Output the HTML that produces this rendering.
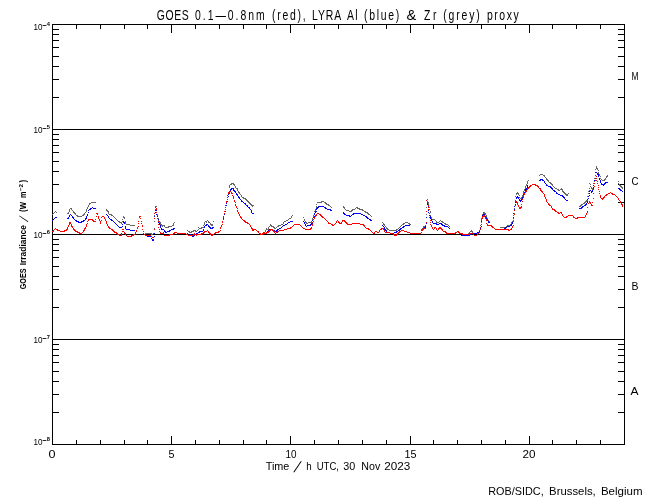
<!DOCTYPE html>
<html><head><meta charset="utf-8"><title>GOES LYRA proxy</title>
<style>
html,body{margin:0;padding:0;background:#fff;width:650px;height:500px;overflow:hidden}
svg{display:block;will-change:transform}
text{font-family:"Liberation Sans",Arial,sans-serif;fill:#000}
</style></head><body>
<svg width="650" height="500" viewBox="0 0 650 500">
<rect width="650" height="500" fill="#fff"/>
<g id="plot">
<g shape-rendering="crispEdges">
<rect x="52.5" y="24.5" width="572" height="420" fill="none" stroke="#000"/>
<line x1="52" y1="129.5" x2="625" y2="129.5" stroke="#000"/>
<line x1="52" y1="234.5" x2="625" y2="234.5" stroke="#000"/>
<line x1="52" y1="339.5" x2="625" y2="339.5" stroke="#000"/>
<path d="M53 97.5H59M618 97.5H624M53 79.5H59M618 79.5H624M53 66.5H59M618 66.5H624M53 56.5H59M618 56.5H624M53 47.5H59M618 47.5H624M53 40.5H59M618 40.5H624M53 34.5H59M618 34.5H624M53 29.5H59M618 29.5H624M53 202.5H59M618 202.5H624M53 184.5H59M618 184.5H624M53 171.5H59M618 171.5H624M53 161.5H59M618 161.5H624M53 152.5H59M618 152.5H624M53 145.5H59M618 145.5H624M53 139.5H59M618 139.5H624M53 134.5H59M618 134.5H624M53 307.5H59M618 307.5H624M53 289.5H59M618 289.5H624M53 276.5H59M618 276.5H624M53 266.5H59M618 266.5H624M53 257.5H59M618 257.5H624M53 250.5H59M618 250.5H624M53 244.5H59M618 244.5H624M53 239.5H59M618 239.5H624M53 412.5H59M618 412.5H624M53 394.5H59M618 394.5H624M53 381.5H59M618 381.5H624M53 371.5H59M618 371.5H624M53 362.5H59M618 362.5H624M53 355.5H59M618 355.5H624M53 349.5H59M618 349.5H624M53 344.5H59M618 344.5H624" stroke="#000" fill="none"/>
<path d="M76.5 444V440M76.5 25V29M100.5 444V440M100.5 25V29M124.5 444V440M124.5 25V29M147.5 444V440M147.5 25V29M171.5 444V436M171.5 25V33M195.5 444V440M195.5 25V29M219.5 444V440M219.5 25V29M243.5 444V440M243.5 25V29M266.5 444V440M266.5 25V29M290.5 444V436M290.5 25V33M314.5 444V440M314.5 25V29M338.5 444V440M338.5 25V29M362.5 444V440M362.5 25V29M386.5 444V440M386.5 25V29M410.5 444V436M410.5 25V33M433.5 444V440M433.5 25V29M457.5 444V440M457.5 25V29M481.5 444V440M481.5 25V29M505.5 444V440M505.5 25V29M529.5 444V436M529.5 25V33M552.5 444V440M552.5 25V29M576.5 444V440M576.5 25V29M600.5 444V440M600.5 25V29" stroke="#000" fill="none"/>
</g>
<g id="data" shape-rendering="crispEdges">
<path d="M52 214.5h1M53 213.5h1M54 212.5h1M55 211.5h1M56 212.5h1M67 213.5h1M68 213.5h1M68 212.5h1M69 211.5h1M69 210.5h1M69 209.5h1M70 208.5h1M71 208.5h1M71 209.5h1M72 210.5h1M73 211.5h1M73 212.5h1M74 212.5h1M74 213.5h1M75 213.5h1M75 214.5h1M76 215.5h1M77 215.5h1M77 216.5h1M78 216.5h1M79 216.5h1M80 216.5h1M81 216.5h1M82 215.5h1M83 215.5h1M83 214.5h1M84 214.5h1M84 213.5h1M85 212.5h1M86 211.5h1M86 210.5h1M86 209.5h1M87 208.5h1M87 207.5h1M88 206.5h1M88 205.5h1M89 204.5h1M89 203.5h1M90 203.5h1M91 202.5h1M92 202.5h1M93 202.5h1M94 202.5h1M95 202.5h1M106 209.5h1M106 210.5h1M107 210.5h1M107 211.5h1M108 211.5h1M108 212.5h1M108 213.5h1M109 214.5h1M110 214.5h1M111 214.5h1M111 215.5h1M112 215.5h1M113 216.5h1M114 217.5h1M115 218.5h1M116 219.5h1M117 220.5h1M118 221.5h1M119 221.5h1M119 222.5h1M120 222.5h1M121 223.5h1M121 222.5h1M122 221.5h1M122 219.5h1M123 217.5h1M123 216.5h1M124 217.5h1M124 218.5h1M125 221.5h1M125 222.5h1M125 223.5h1M126 224.5h1M127 224.5h1M128 224.5h1M129 224.5h1M130 225.5h1M131 225.5h1M132 225.5h1M133 225.5h1M134 225.5h1M145 233.5h1M146 233.5h1M147 233.5h1M148 233.5h1M149 233.5h1M150 233.5h1M151 233.5h1M151 234.5h1M152 234.5h1M153 233.5h1M154 228.5h1M154 221.5h1M154 215.5h1M155 209.5h1M155 206.5h1M156 206.5h1M156 209.5h1M156 212.5h1M157 214.5h1M157 216.5h1M158 218.5h1M158 219.5h1M158 220.5h1M159 221.5h1M159 222.5h1M160 222.5h1M160 223.5h1M160 224.5h1M161 224.5h1M161 225.5h1M162 225.5h1M162 226.5h1M163 225.5h1M164 225.5h1M164 226.5h1M165 227.5h1M166 227.5h1M167 227.5h1M168 227.5h1M168 226.5h1M169 226.5h1M170 226.5h1M171 226.5h1M172 225.5h1M173 225.5h1M173 224.5h1M173 223.5h1M174 222.5h1M187 230.5h1M188 231.5h1M189 231.5h1M189 232.5h1M190 232.5h1M191 232.5h1M191 231.5h1M192 231.5h1M193 231.5h1M193 230.5h1M194 230.5h1M195 230.5h1M195 231.5h1M196 231.5h1M197 230.5h1M198 229.5h1M198 227.5h1M199 228.5h1M200 228.5h1M201 228.5h1M201 227.5h1M202 227.5h1M203 227.5h1M203 225.5h1M204 224.5h1M204 223.5h1M204 222.5h1M205 221.5h1M206 222.5h1M206 221.5h1M207 220.5h1M208 221.5h1M208 222.5h1M209 222.5h1M210 223.5h1M210 224.5h1M211 224.5h1M211 225.5h1M212 225.5h1M212 224.5h1M213 221.5h1M229 187.5h1M229 186.5h1M229 185.5h1M230 184.5h1M231 184.5h1M231 183.5h1M232 183.5h1M233 183.5h1M233 184.5h1M234 184.5h1M234 185.5h1M235 186.5h1M235 187.5h1M236 188.5h1M237 188.5h1M237 189.5h1M237 190.5h1M238 191.5h1M238 192.5h1M239 192.5h1M239 193.5h1M240 194.5h1M241 195.5h1M241 196.5h1M242 197.5h1M243 197.5h1M243 198.5h1M244 198.5h1M245 198.5h1M245 199.5h1M246 199.5h1M246 200.5h1M247 200.5h1M247 201.5h1M248 201.5h1M248 202.5h1M249 202.5h1M249 203.5h1M250 203.5h1M250 204.5h1M251 204.5h1M251 205.5h1M252 205.5h1M252 206.5h1M253 205.5h1M265 231.5h1M265 230.5h1M266 229.5h1M266 228.5h1M267 229.5h1M268 229.5h1M268 228.5h1M268 227.5h1M269 226.5h1M270 225.5h1M270 224.5h1M271 225.5h1M271 226.5h1M272 226.5h1M273 226.5h1M273 227.5h1M274 227.5h1M274 228.5h1M275 228.5h1M276 227.5h1M277 226.5h1M278 226.5h1M278 225.5h1M279 225.5h1M280 225.5h1M281 224.5h1M282 224.5h1M283 223.5h1M283 222.5h1M284 221.5h1M285 221.5h1M286 220.5h1M287 220.5h1M288 219.5h1M289 218.5h1M290 218.5h1M291 217.5h1M291 216.5h1M292 215.5h1M303 217.5h1M304 219.5h1M304 220.5h1M305 221.5h1M305 222.5h1M306 222.5h1M306 223.5h1M307 223.5h1M308 222.5h1M309 222.5h1M310 222.5h1M311 222.5h1M311 221.5h1M312 220.5h1M312 219.5h1M312 218.5h1M313 216.5h1M313 215.5h1M314 214.5h1M314 213.5h1M314 211.5h1M315 210.5h1M315 209.5h1M316 207.5h1M316 206.5h1M316 204.5h1M317 202.5h1M318 202.5h1M319 202.5h1M320 202.5h1M321 202.5h1M321 201.5h1M322 201.5h1M323 201.5h1M324 202.5h1M325 202.5h1M325 203.5h1M326 203.5h1M326 204.5h1M327 204.5h1M328 204.5h1M328 205.5h1M329 205.5h1M330 206.5h1M331 207.5h1M343 206.5h1M343 207.5h1M344 207.5h1M344 208.5h1M345 209.5h1M346 210.5h1M347 210.5h1M348 210.5h1M349 211.5h1M350 211.5h1M351 211.5h1M351 210.5h1M352 210.5h1M352 209.5h1M353 209.5h1M354 209.5h1M355 208.5h1M356 207.5h1M357 207.5h1M357 208.5h1M358 208.5h1M359 208.5h1M359 209.5h1M360 209.5h1M361 209.5h1M362 209.5h1M362 210.5h1M363 210.5h1M364 211.5h1M365 211.5h1M365 212.5h1M366 212.5h1M367 212.5h1M367 213.5h1M368 213.5h1M368 214.5h1M369 214.5h1M370 215.5h1M371 216.5h1M382 222.5h1M383 223.5h1M383 224.5h1M384 224.5h1M384 225.5h1M385 226.5h1M386 227.5h1M386 228.5h1M387 228.5h1M387 229.5h1M388 229.5h1M389 230.5h1M390 230.5h1M391 230.5h1M392 230.5h1M393 230.5h1M394 230.5h1M395 230.5h1M396 230.5h1M396 229.5h1M397 229.5h1M398 228.5h1M399 227.5h1M400 226.5h1M401 225.5h1M402 224.5h1M403 224.5h1M403 223.5h1M404 223.5h1M405 222.5h1M406 222.5h1M407 222.5h1M408 223.5h1M409 223.5h1M409 224.5h1M410 224.5h1M421 229.5h1M422 228.5h1M423 227.5h1M423 226.5h1M424 226.5h1M425 225.5h1M426 222.5h1M426 214.5h1M426 207.5h1M427 199.5h1M428 202.5h1M428 203.5h1M428 204.5h1M429 207.5h1M429 209.5h1M430 211.5h1M430 212.5h1M430 215.5h1M431 217.5h1M431 218.5h1M432 219.5h1M433 219.5h1M434 219.5h1M435 220.5h1M436 221.5h1M436 222.5h1M437 222.5h1M438 222.5h1M439 221.5h1M440 220.5h1M441 221.5h1M442 221.5h1M442 222.5h1M443 222.5h1M444 223.5h1M445 223.5h1M445 224.5h1M446 224.5h1M447 224.5h1M448 225.5h1M449 226.5h1M461 235.5h1M462 235.5h1M463 235.5h1M464 235.5h1M465 235.5h1M466 235.5h1M466 234.5h1M467 234.5h1M468 234.5h1M468 233.5h1M469 233.5h1M469 232.5h1M470 231.5h1M471 230.5h1M471 231.5h1M472 231.5h1M472 232.5h1M473 233.5h1M474 233.5h1M475 233.5h1M476 233.5h1M477 233.5h1M478 232.5h1M479 232.5h1M479 231.5h1M479 230.5h1M480 228.5h1M480 225.5h1M481 222.5h1M481 220.5h1M481 218.5h1M482 216.5h1M482 215.5h1M482 214.5h1M483 213.5h1M483 212.5h1M484 212.5h1M484 213.5h1M485 213.5h1M485 214.5h1M486 215.5h1M486 216.5h1M486 217.5h1M487 218.5h1M487 219.5h1M488 220.5h1M488 221.5h1M489 221.5h1M500 227.5h1M501 227.5h1M502 227.5h1M503 227.5h1M504 227.5h1M505 227.5h1M506 227.5h1M506 226.5h1M507 226.5h1M507 225.5h1M508 225.5h1M509 225.5h1M510 224.5h1M511 223.5h1M511 222.5h1M512 222.5h1M512 221.5h1M513 220.5h1M513 217.5h1M513 215.5h1M514 213.5h1M514 208.5h1M515 204.5h1M515 200.5h1M515 196.5h1M516 194.5h1M516 193.5h1M517 193.5h1M517 192.5h1M518 193.5h1M518 194.5h1M519 195.5h1M519 197.5h1M520 198.5h1M521 198.5h1M521 197.5h1M522 196.5h1M522 195.5h1M523 193.5h1M523 192.5h1M523 191.5h1M524 190.5h1M524 189.5h1M525 188.5h1M525 187.5h1M525 186.5h1M526 185.5h1M526 184.5h1M527 183.5h1M527 182.5h1M527 181.5h1M528 180.5h1M539 175.5h1M540 174.5h1M541 174.5h1M542 174.5h1M543 175.5h1M544 175.5h1M544 176.5h1M545 177.5h1M546 178.5h1M546 179.5h1M547 179.5h1M547 180.5h1M548 180.5h1M548 181.5h1M549 182.5h1M550 182.5h1M550 183.5h1M551 183.5h1M551 184.5h1M552 184.5h1M552 185.5h1M553 186.5h1M554 187.5h1M555 188.5h1M556 188.5h1M557 189.5h1M558 189.5h1M558 190.5h1M559 190.5h1M560 189.5h1M561 188.5h1M561 189.5h1M562 189.5h1M562 190.5h1M562 191.5h1M563 191.5h1M563 192.5h1M564 192.5h1M564 193.5h1M565 193.5h1M565 194.5h1M566 194.5h1M566 195.5h1M567 195.5h1M567 194.5h1M568 193.5h1M579 206.5h1M580 206.5h1M580 205.5h1M581 205.5h1M581 204.5h1M582 204.5h1M583 203.5h1M584 203.5h1M584 202.5h1M585 202.5h1M585 201.5h1M586 201.5h1M586 200.5h1M587 200.5h1M587 199.5h1M587 196.5h1M588 193.5h1M588 191.5h1M589 190.5h1M589 188.5h1M589 183.5h1M590 184.5h1M590 186.5h1M591 187.5h1M591 188.5h1M592 189.5h1M592 188.5h1M593 187.5h1M593 185.5h1M593 183.5h1M594 181.5h1M594 178.5h1M595 175.5h1M595 172.5h1M595 169.5h1M596 168.5h1M596 166.5h1M596 167.5h1M597 168.5h1M597 169.5h1M598 170.5h1M598 172.5h1M598 173.5h1M599 174.5h1M599 175.5h1M600 176.5h1M600 178.5h1M601 179.5h1M602 180.5h1M603 180.5h1M604 180.5h1M604 179.5h1M605 179.5h1M605 178.5h1M606 177.5h1M606 176.5h1M607 176.5h1M607 175.5h1M618 181.5h1M618 183.5h1M619 184.5h1M619 185.5h1M620 185.5h1M620 186.5h1M621 186.5h1M621 187.5h1M622 187.5h1M622 188.5h1" fill="none" stroke="#666666" stroke-width="1"/>
<path d="M52 220.5h1M53 219.5h1M54 218.5h1M55 217.5h1M56 217.5h1M67 218.5h1M68 218.5h1M68 217.5h1M69 216.5h1M69 215.5h1M70 214.5h1M71 215.5h1M72 216.5h1M72 217.5h1M73 217.5h1M73 218.5h1M74 219.5h1M75 220.5h1M76 220.5h1M76 221.5h1M77 221.5h1M78 221.5h1M78 222.5h1M79 222.5h1M80 222.5h1M81 222.5h1M81 221.5h1M82 221.5h1M83 221.5h1M83 220.5h1M84 220.5h1M85 219.5h1M85 218.5h1M86 218.5h1M86 217.5h1M86 216.5h1M87 215.5h1M87 214.5h1M88 212.5h1M88 210.5h1M89 209.5h1M90 209.5h1M90 208.5h1M91 208.5h1M92 207.5h1M93 208.5h1M94 208.5h1M95 208.5h1M106 214.5h1M107 215.5h1M108 216.5h1M108 217.5h1M109 218.5h1M110 219.5h1M111 219.5h1M111 220.5h1M112 220.5h1M113 221.5h1M114 222.5h1M115 223.5h1M116 224.5h1M117 225.5h1M118 226.5h1M119 227.5h1M120 227.5h1M121 227.5h1M122 226.5h1M122 224.5h1M123 222.5h1M123 221.5h1M124 222.5h1M124 223.5h1M125 226.5h1M125 227.5h1M125 228.5h1M126 229.5h1M127 229.5h1M128 229.5h1M129 229.5h1M130 230.5h1M131 230.5h1M132 230.5h1M133 230.5h1M134 230.5h1M145 235.5h1M146 235.5h1M147 236.5h1M148 236.5h1M149 236.5h1M150 236.5h1M151 236.5h1M151 238.5h1M152 239.5h1M152 240.5h1M153 240.5h1M153 239.5h1M154 236.5h1M154 233.5h1M154 216.5h1M155 212.5h1M155 210.5h1M156 210.5h1M156 212.5h1M156 214.5h1M157 216.5h1M157 218.5h1M158 219.5h1M158 221.5h1M158 222.5h1M159 223.5h1M159 224.5h1M160 225.5h1M160 226.5h1M160 227.5h1M161 228.5h1M161 229.5h1M162 229.5h1M163 229.5h1M164 230.5h1M164 231.5h1M165 231.5h1M165 232.5h1M166 232.5h1M167 231.5h1M168 231.5h1M169 231.5h1M169 230.5h1M170 230.5h1M171 229.5h1M172 229.5h1M173 229.5h1M173 228.5h1M174 228.5h1M187 233.5h1M187 234.5h1M188 235.5h1M189 234.5h1M190 234.5h1M191 235.5h1M192 235.5h1M192 236.5h1M193 236.5h1M193 235.5h1M194 235.5h1M195 234.5h1M196 234.5h1M196 233.5h1M197 233.5h1M198 232.5h1M199 232.5h1M199 231.5h1M200 231.5h1M201 231.5h1M202 231.5h1M203 230.5h1M203 229.5h1M204 227.5h1M204 226.5h1M205 225.5h1M206 225.5h1M206 224.5h1M207 224.5h1M208 225.5h1M208 226.5h1M209 226.5h1M209 227.5h1M210 227.5h1M210 228.5h1M211 228.5h1M212 228.5h1M212 227.5h1M213 227.5h1M223 218.5h1M223 217.5h1M223 216.5h1M224 214.5h1M224 213.5h1M225 211.5h1M225 209.5h1M225 207.5h1M226 205.5h1M226 203.5h1M227 201.5h1M227 199.5h1M227 197.5h1M228 196.5h1M228 194.5h1M229 193.5h1M229 192.5h1M229 191.5h1M230 190.5h1M230 189.5h1M231 189.5h1M231 188.5h1M232 188.5h1M233 188.5h1M233 189.5h1M233 190.5h1M234 190.5h1M234 191.5h1M235 191.5h1M235 192.5h1M236 193.5h1M236 194.5h1M237 194.5h1M237 195.5h1M238 196.5h1M238 197.5h1M239 197.5h1M239 198.5h1M240 199.5h1M241 200.5h1M241 201.5h1M242 201.5h1M243 202.5h1M244 203.5h1M245 203.5h1M245 204.5h1M246 205.5h1M247 205.5h1M247 206.5h1M248 207.5h1M249 207.5h1M249 208.5h1M250 209.5h1M251 210.5h1M251 211.5h1M251 212.5h1M252 213.5h1M253 213.5h1M265 233.5h1M266 233.5h1M266 232.5h1M267 232.5h1M267 231.5h1M268 231.5h1M268 230.5h1M269 230.5h1M269 229.5h1M270 229.5h1M271 229.5h1M272 229.5h1M272 230.5h1M273 230.5h1M274 230.5h1M274 231.5h1M275 231.5h1M276 231.5h1M276 230.5h1M277 230.5h1M277 229.5h1M278 229.5h1M279 228.5h1M280 228.5h1M281 227.5h1M282 226.5h1M283 225.5h1M284 225.5h1M285 224.5h1M286 224.5h1M287 223.5h1M288 222.5h1M289 222.5h1M290 221.5h1M291 221.5h1M292 221.5h1M303 221.5h1M304 222.5h1M304 223.5h1M305 224.5h1M305 225.5h1M306 226.5h1M307 225.5h1M308 225.5h1M309 225.5h1M310 225.5h1M310 224.5h1M311 224.5h1M311 223.5h1M312 223.5h1M312 222.5h1M312 220.5h1M313 219.5h1M313 217.5h1M314 216.5h1M314 214.5h1M314 213.5h1M315 212.5h1M315 211.5h1M316 211.5h1M316 209.5h1M316 208.5h1M317 208.5h1M317 207.5h1M318 207.5h1M318 206.5h1M319 206.5h1M320 206.5h1M321 206.5h1M322 206.5h1M323 206.5h1M324 207.5h1M325 207.5h1M325 208.5h1M326 208.5h1M327 209.5h1M328 209.5h1M329 209.5h1M330 209.5h1M330 210.5h1M331 210.5h1M343 212.5h1M343 213.5h1M344 213.5h1M344 214.5h1M345 214.5h1M346 215.5h1M347 215.5h1M348 215.5h1M349 215.5h1M349 216.5h1M350 216.5h1M351 215.5h1M352 214.5h1M353 214.5h1M353 213.5h1M354 213.5h1M355 213.5h1M356 213.5h1M357 213.5h1M358 213.5h1M359 213.5h1M360 213.5h1M361 214.5h1M362 214.5h1M363 215.5h1M364 215.5h1M365 216.5h1M366 216.5h1M366 217.5h1M367 217.5h1M367 218.5h1M368 218.5h1M369 219.5h1M370 219.5h1M370 220.5h1M371 220.5h1M382 225.5h1M383 226.5h1M384 227.5h1M384 228.5h1M384 229.5h1M385 229.5h1M385 230.5h1M386 230.5h1M386 231.5h1M387 232.5h1M388 232.5h1M389 232.5h1M390 233.5h1M391 233.5h1M392 233.5h1M393 233.5h1M394 232.5h1M395 232.5h1M396 232.5h1M396 231.5h1M397 231.5h1M398 230.5h1M399 230.5h1M399 229.5h1M400 229.5h1M400 228.5h1M401 228.5h1M402 227.5h1M403 227.5h1M403 226.5h1M404 226.5h1M405 225.5h1M406 225.5h1M407 225.5h1M408 225.5h1M409 225.5h1M421 230.5h1M422 229.5h1M423 228.5h1M424 228.5h1M424 227.5h1M425 227.5h1M425 226.5h1M426 223.5h1M426 217.5h1M426 211.5h1M427 204.5h1M427 203.5h1M428 206.5h1M428 210.5h1M428 212.5h1M429 213.5h1M429 215.5h1M430 216.5h1M430 217.5h1M430 218.5h1M431 219.5h1M431 220.5h1M432 221.5h1M432 222.5h1M433 223.5h1M434 223.5h1M435 223.5h1M436 223.5h1M436 224.5h1M437 224.5h1M438 224.5h1M439 223.5h1M440 223.5h1M441 223.5h1M441 224.5h1M442 224.5h1M442 225.5h1M443 225.5h1M444 225.5h1M444 226.5h1M445 226.5h1M446 226.5h1M447 226.5h1M448 227.5h1M449 228.5h1M461 235.5h1M462 235.5h1M463 235.5h1M464 235.5h1M465 235.5h1M466 235.5h1M467 235.5h1M468 235.5h1M469 235.5h1M469 234.5h1M470 234.5h1M470 233.5h1M471 233.5h1M472 233.5h1M473 233.5h1M474 233.5h1M475 233.5h1M476 233.5h1M477 232.5h1M478 232.5h1M479 232.5h1M479 231.5h1M479 230.5h1M480 229.5h1M480 228.5h1M481 226.5h1M481 224.5h1M481 221.5h1M482 217.5h1M482 215.5h1M483 214.5h1M484 214.5h1M484 215.5h1M484 216.5h1M485 216.5h1M485 217.5h1M486 217.5h1M486 218.5h1M486 219.5h1M487 219.5h1M487 220.5h1M488 221.5h1M488 222.5h1M489 222.5h1M501 229.5h1M502 229.5h1M503 229.5h1M504 229.5h1M504 228.5h1M505 228.5h1M505 227.5h1M506 227.5h1M507 226.5h1M508 226.5h1M509 226.5h1M510 225.5h1M511 225.5h1M511 224.5h1M512 223.5h1M512 222.5h1M513 221.5h1M513 217.5h1M513 213.5h1M514 209.5h1M514 206.5h1M515 204.5h1M515 202.5h1M515 200.5h1M516 198.5h1M516 197.5h1M517 196.5h1M517 197.5h1M518 197.5h1M518 198.5h1M519 199.5h1M519 200.5h1M520 200.5h1M520 201.5h1M521 200.5h1M521 199.5h1M522 198.5h1M522 197.5h1M523 196.5h1M523 195.5h1M523 194.5h1M524 193.5h1M524 192.5h1M525 191.5h1M525 190.5h1M525 189.5h1M526 189.5h1M526 188.5h1M527 187.5h1M527 186.5h1M527 185.5h1M539 180.5h1M540 180.5h1M540 179.5h1M541 179.5h1M542 179.5h1M542 180.5h1M543 180.5h1M544 181.5h1M544 182.5h1M545 183.5h1M546 184.5h1M546 185.5h1M547 185.5h1M548 186.5h1M549 186.5h1M550 186.5h1M550 187.5h1M551 187.5h1M551 188.5h1M552 188.5h1M552 189.5h1M553 190.5h1M554 190.5h1M554 191.5h1M555 191.5h1M556 192.5h1M556 193.5h1M557 193.5h1M558 194.5h1M559 194.5h1M560 195.5h1M561 195.5h1M562 195.5h1M562 196.5h1M563 196.5h1M563 197.5h1M564 197.5h1M564 198.5h1M565 199.5h1M566 200.5h1M567 200.5h1M579 208.5h1M580 208.5h1M581 208.5h1M581 207.5h1M582 207.5h1M582 206.5h1M583 206.5h1M584 205.5h1M585 205.5h1M585 204.5h1M586 204.5h1M586 203.5h1M587 202.5h1M587 201.5h1M587 199.5h1M588 198.5h1M588 196.5h1M589 195.5h1M589 193.5h1M589 191.5h1M590 190.5h1M591 191.5h1M591 192.5h1M592 191.5h1M592 190.5h1M593 188.5h1M593 187.5h1M593 185.5h1M594 183.5h1M594 180.5h1M595 178.5h1M595 175.5h1M595 172.5h1M596 172.5h1M597 173.5h1M597 174.5h1M598 174.5h1M598 175.5h1M598 176.5h1M599 178.5h1M599 179.5h1M600 180.5h1M600 181.5h1M600 182.5h1M601 183.5h1M601 184.5h1M602 184.5h1M603 185.5h1M603 184.5h1M604 184.5h1M604 183.5h1M605 183.5h1M605 182.5h1M606 182.5h1M607 182.5h1M618 188.5h1M619 188.5h1M619 189.5h1M620 189.5h1M620 190.5h1M621 190.5h1M622 191.5h1" fill="none" stroke="#0000ff" stroke-width="1"/>
<path d="M52 231.5h1M53 231.5h1M53 230.5h1M54 229.5h1M55 228.5h1M56 229.5h1M57 229.5h1M57 230.5h1M58 230.5h1M59 230.5h1M60 231.5h1M61 231.5h1M62 231.5h1M63 231.5h1M64 231.5h1M64 230.5h1M65 230.5h1M66 230.5h1M66 229.5h1M67 229.5h1M67 228.5h1M67 227.5h1M68 226.5h1M68 225.5h1M69 224.5h1M69 223.5h1M69 222.5h1M70 222.5h1M70 223.5h1M71 224.5h1M71 225.5h1M71 226.5h1M72 226.5h1M72 227.5h1M73 228.5h1M73 229.5h1M74 229.5h1M74 230.5h1M75 230.5h1M75 231.5h1M76 231.5h1M77 231.5h1M77 232.5h1M78 232.5h1M79 232.5h1M79 233.5h1M80 233.5h1M81 233.5h1M82 232.5h1M83 231.5h1M83 230.5h1M84 230.5h1M84 229.5h1M84 228.5h1M85 228.5h1M85 227.5h1M86 226.5h1M86 225.5h1M86 224.5h1M87 223.5h1M87 221.5h1M88 220.5h1M88 219.5h1M89 219.5h1M90 219.5h1M91 219.5h1M92 219.5h1M92 220.5h1M93 220.5h1M93 221.5h1M94 221.5h1M95 221.5h1M95 219.5h1M96 216.5h1M96 213.5h1M97 213.5h1M97 214.5h1M98 216.5h1M98 217.5h1M98 218.5h1M99 219.5h1M99 220.5h1M100 221.5h1M100 222.5h1M100 223.5h1M101 220.5h1M101 217.5h1M102 216.5h1M103 216.5h1M104 217.5h1M104 218.5h1M105 219.5h1M105 220.5h1M106 221.5h1M106 222.5h1M106 223.5h1M107 224.5h1M107 225.5h1M108 226.5h1M108 227.5h1M109 227.5h1M109 228.5h1M110 228.5h1M111 229.5h1M112 229.5h1M112 230.5h1M113 230.5h1M113 231.5h1M114 231.5h1M114 232.5h1M115 232.5h1M116 232.5h1M116 233.5h1M117 233.5h1M117 234.5h1M118 234.5h1M119 234.5h1M119 235.5h1M120 235.5h1M121 235.5h1M121 234.5h1M121 233.5h1M122 231.5h1M122 229.5h1M123 229.5h1M123 231.5h1M124 232.5h1M124 233.5h1M125 233.5h1M125 234.5h1M126 235.5h1M127 236.5h1M128 236.5h1M129 236.5h1M130 236.5h1M131 236.5h1M131 235.5h1M132 235.5h1M133 235.5h1M133 234.5h1M134 234.5h1M135 233.5h1M135 232.5h1M136 231.5h1M136 230.5h1M137 228.5h1M137 227.5h1M138 226.5h1M138 223.5h1M138 221.5h1M139 217.5h1M139 216.5h1M140 216.5h1M140 218.5h1M141 221.5h1M141 223.5h1M142 225.5h1M142 226.5h1M142 229.5h1M143 231.5h1M143 233.5h1M144 234.5h1M145 235.5h1M146 235.5h1M147 235.5h1M148 235.5h1M149 235.5h1M150 235.5h1M151 236.5h1M152 237.5h1M153 237.5h1M154 229.5h1M154 218.5h1M154 213.5h1M155 209.5h1M155 207.5h1M156 208.5h1M156 209.5h1M156 212.5h1M157 215.5h1M157 218.5h1M158 221.5h1M158 224.5h1M158 227.5h1M159 229.5h1M159 231.5h1M160 232.5h1M160 233.5h1M161 233.5h1M162 233.5h1M163 232.5h1M163 233.5h1M164 235.5h1M165 235.5h1M166 235.5h1M167 235.5h1M168 235.5h1M169 235.5h1M169 234.5h1M170 234.5h1M171 234.5h1M172 234.5h1M173 233.5h1M174 233.5h1M174 232.5h1M175 232.5h1M176 232.5h1M177 233.5h1M178 233.5h1M179 233.5h1M180 233.5h1M181 233.5h1M182 233.5h1M183 233.5h1M184 233.5h1M185 233.5h1M186 234.5h1M187 234.5h1M188 235.5h1M189 235.5h1M190 235.5h1M191 235.5h1M192 235.5h1M193 235.5h1M193 234.5h1M194 233.5h1M194 234.5h1M195 234.5h1M196 235.5h1M196 234.5h1M197 234.5h1M198 234.5h1M199 234.5h1M200 234.5h1M201 234.5h1M201 233.5h1M202 233.5h1M203 233.5h1M203 232.5h1M204 232.5h1M204 231.5h1M205 231.5h1M206 231.5h1M207 230.5h1M208 231.5h1M208 232.5h1M209 232.5h1M209 233.5h1M210 233.5h1M210 234.5h1M211 235.5h1M212 235.5h1M212 234.5h1M213 234.5h1M214 233.5h1M215 233.5h1M215 232.5h1M216 232.5h1M217 232.5h1M218 232.5h1M218 231.5h1M219 231.5h1M220 230.5h1M220 228.5h1M220 227.5h1M221 226.5h1M221 225.5h1M222 224.5h1M222 222.5h1M222 221.5h1M223 219.5h1M223 217.5h1M223 216.5h1M224 213.5h1M224 211.5h1M225 209.5h1M225 207.5h1M225 205.5h1M226 202.5h1M226 201.5h1M227 199.5h1M227 197.5h1M227 195.5h1M228 193.5h1M228 192.5h1M229 192.5h1M229 191.5h1M230 191.5h1M231 192.5h1M231 193.5h1M232 193.5h1M232 195.5h1M233 196.5h1M233 197.5h1M233 198.5h1M234 200.5h1M234 201.5h1M235 202.5h1M235 204.5h1M235 205.5h1M236 206.5h1M236 207.5h1M237 208.5h1M237 210.5h1M237 211.5h1M238 212.5h1M238 213.5h1M239 214.5h1M239 215.5h1M240 216.5h1M240 217.5h1M241 217.5h1M241 218.5h1M242 219.5h1M243 220.5h1M244 220.5h1M244 221.5h1M245 221.5h1M245 222.5h1M246 222.5h1M247 222.5h1M247 223.5h1M248 223.5h1M249 224.5h1M250 225.5h1M250 226.5h1M251 227.5h1M251 228.5h1M252 228.5h1M252 229.5h1M252 230.5h1M253 230.5h1M253 229.5h1M254 229.5h1M255 229.5h1M256 230.5h1M257 231.5h1M258 231.5h1M258 232.5h1M259 233.5h1M260 233.5h1M260 234.5h1M261 234.5h1M262 234.5h1M262 233.5h1M263 233.5h1M263 232.5h1M264 232.5h1M264 233.5h1M265 233.5h1M266 233.5h1M266 232.5h1M267 232.5h1M268 232.5h1M268 231.5h1M269 231.5h1M269 230.5h1M270 230.5h1M270 229.5h1M271 229.5h1M272 229.5h1M272 230.5h1M273 230.5h1M273 231.5h1M274 231.5h1M274 232.5h1M275 233.5h1M276 232.5h1M277 232.5h1M277 231.5h1M278 231.5h1M279 230.5h1M280 230.5h1M281 230.5h1M282 230.5h1M283 230.5h1M284 229.5h1M285 229.5h1M286 229.5h1M287 228.5h1M288 228.5h1M289 228.5h1M290 228.5h1M290 227.5h1M291 227.5h1M292 226.5h1M293 225.5h1M294 224.5h1M295 224.5h1M296 224.5h1M297 224.5h1M298 224.5h1M299 224.5h1M300 225.5h1M301 226.5h1M302 227.5h1M303 228.5h1M304 228.5h1M305 229.5h1M306 229.5h1M307 229.5h1M308 229.5h1M309 229.5h1M310 229.5h1M310 228.5h1M311 228.5h1M311 227.5h1M312 225.5h1M312 224.5h1M312 222.5h1M313 221.5h1M313 219.5h1M314 218.5h1M314 217.5h1M315 216.5h1M315 215.5h1M316 215.5h1M316 214.5h1M317 213.5h1M318 213.5h1M319 214.5h1M320 214.5h1M320 215.5h1M321 215.5h1M321 216.5h1M322 216.5h1M322 217.5h1M323 217.5h1M324 218.5h1M325 219.5h1M326 220.5h1M327 221.5h1M328 222.5h1M328 223.5h1M329 223.5h1M330 223.5h1M331 224.5h1M332 224.5h1M332 225.5h1M333 225.5h1M334 224.5h1M335 223.5h1M336 222.5h1M336 221.5h1M337 220.5h1M338 221.5h1M338 222.5h1M339 222.5h1M339 223.5h1M340 223.5h1M341 223.5h1M341 222.5h1M342 221.5h1M342 220.5h1M343 220.5h1M344 220.5h1M344 221.5h1M345 221.5h1M345 222.5h1M346 222.5h1M346 223.5h1M347 223.5h1M347 224.5h1M348 224.5h1M349 224.5h1M350 224.5h1M351 224.5h1M352 223.5h1M353 223.5h1M354 223.5h1M355 223.5h1M356 223.5h1M357 223.5h1M358 223.5h1M359 223.5h1M360 224.5h1M361 224.5h1M362 224.5h1M363 224.5h1M363 225.5h1M364 225.5h1M364 226.5h1M365 227.5h1M366 228.5h1M367 228.5h1M368 228.5h1M368 229.5h1M369 229.5h1M370 230.5h1M371 231.5h1M372 232.5h1M373 233.5h1M374 233.5h1M374 232.5h1M375 231.5h1M376 231.5h1M377 232.5h1M378 232.5h1M379 231.5h1M379 230.5h1M380 229.5h1M381 229.5h1M381 228.5h1M382 228.5h1M383 228.5h1M383 229.5h1M384 230.5h1M384 231.5h1M385 232.5h1M386 232.5h1M387 232.5h1M388 232.5h1M389 232.5h1M390 233.5h1M391 233.5h1M392 233.5h1M393 234.5h1M394 234.5h1M394 235.5h1M395 235.5h1M396 235.5h1M396 234.5h1M397 234.5h1M397 233.5h1M398 233.5h1M398 232.5h1M399 232.5h1M399 231.5h1M400 231.5h1M401 230.5h1M402 230.5h1M403 230.5h1M404 231.5h1M405 231.5h1M406 231.5h1M407 232.5h1M408 232.5h1M409 232.5h1M410 233.5h1M411 233.5h1M412 233.5h1M413 233.5h1M414 233.5h1M415 233.5h1M416 233.5h1M417 233.5h1M418 233.5h1M419 233.5h1M420 233.5h1M421 232.5h1M421 230.5h1M422 230.5h1M422 229.5h1M423 229.5h1M423 228.5h1M424 228.5h1M425 228.5h1M426 222.5h1M426 211.5h1M426 200.5h1M427 201.5h1M427 202.5h1M428 205.5h1M428 207.5h1M428 209.5h1M429 213.5h1M429 217.5h1M430 220.5h1M430 222.5h1M430 224.5h1M431 225.5h1M431 226.5h1M432 227.5h1M432 228.5h1M433 229.5h1M434 228.5h1M434 227.5h1M435 227.5h1M436 228.5h1M436 229.5h1M437 230.5h1M438 229.5h1M438 228.5h1M439 228.5h1M439 227.5h1M440 227.5h1M440 228.5h1M441 228.5h1M441 229.5h1M442 229.5h1M442 230.5h1M443 231.5h1M444 231.5h1M445 231.5h1M445 232.5h1M446 232.5h1M446 233.5h1M447 233.5h1M448 233.5h1M449 233.5h1M450 233.5h1M451 233.5h1M452 233.5h1M453 233.5h1M454 233.5h1M455 233.5h1M455 232.5h1M456 232.5h1M457 231.5h1M458 231.5h1M458 232.5h1M459 232.5h1M459 233.5h1M460 233.5h1M461 233.5h1M462 233.5h1M462 234.5h1M463 234.5h1M464 234.5h1M465 234.5h1M466 234.5h1M467 234.5h1M468 234.5h1M469 234.5h1M469 233.5h1M470 233.5h1M471 233.5h1M472 233.5h1M473 234.5h1M474 235.5h1M475 235.5h1M476 235.5h1M477 234.5h1M478 233.5h1M479 232.5h1M479 230.5h1M480 229.5h1M480 227.5h1M481 224.5h1M481 220.5h1M481 219.5h1M482 218.5h1M482 217.5h1M482 216.5h1M483 216.5h1M483 215.5h1M484 215.5h1M484 216.5h1M485 217.5h1M485 218.5h1M486 219.5h1M486 220.5h1M486 223.5h1M487 224.5h1M487 225.5h1M488 225.5h1M489 225.5h1M490 225.5h1M491 225.5h1M491 226.5h1M492 226.5h1M492 227.5h1M493 227.5h1M494 228.5h1M495 229.5h1M496 229.5h1M497 229.5h1M498 229.5h1M499 229.5h1M500 229.5h1M501 229.5h1M502 229.5h1M503 229.5h1M504 229.5h1M505 229.5h1M506 229.5h1M507 229.5h1M508 229.5h1M508 230.5h1M509 230.5h1M510 229.5h1M511 229.5h1M511 228.5h1M512 227.5h1M512 226.5h1M513 225.5h1M513 221.5h1M513 218.5h1M514 214.5h1M514 210.5h1M515 205.5h1M515 201.5h1M515 200.5h1M516 201.5h1M516 202.5h1M517 202.5h1M517 203.5h1M517 204.5h1M518 205.5h1M518 206.5h1M519 207.5h1M519 208.5h1M520 208.5h1M520 207.5h1M521 207.5h1M521 206.5h1M521 204.5h1M522 201.5h1M522 199.5h1M523 197.5h1M523 196.5h1M523 195.5h1M524 194.5h1M524 193.5h1M525 192.5h1M525 191.5h1M526 191.5h1M526 190.5h1M527 189.5h1M527 188.5h1M528 188.5h1M528 187.5h1M529 187.5h1M529 186.5h1M530 186.5h1M530 185.5h1M531 185.5h1M532 184.5h1M533 184.5h1M534 184.5h1M535 184.5h1M535 185.5h1M536 185.5h1M537 185.5h1M537 186.5h1M538 186.5h1M538 187.5h1M539 188.5h1M540 188.5h1M540 189.5h1M540 190.5h1M541 190.5h1M541 191.5h1M542 191.5h1M542 192.5h1M543 193.5h1M544 194.5h1M544 195.5h1M544 196.5h1M545 197.5h1M545 198.5h1M546 199.5h1M546 200.5h1M546 201.5h1M547 202.5h1M548 203.5h1M548 204.5h1M549 204.5h1M549 205.5h1M550 205.5h1M551 206.5h1M551 207.5h1M552 208.5h1M552 209.5h1M553 209.5h1M554 209.5h1M554 210.5h1M555 210.5h1M555 211.5h1M556 211.5h1M557 212.5h1M558 212.5h1M558 213.5h1M559 213.5h1M560 212.5h1M561 212.5h1M561 213.5h1M562 214.5h1M562 215.5h1M563 216.5h1M564 217.5h1M565 217.5h1M566 217.5h1M566 216.5h1M567 216.5h1M568 215.5h1M569 215.5h1M570 215.5h1M571 215.5h1M572 215.5h1M573 216.5h1M573 217.5h1M574 217.5h1M575 218.5h1M576 218.5h1M577 218.5h1M577 217.5h1M578 217.5h1M579 217.5h1M580 217.5h1M581 217.5h1M582 217.5h1M583 217.5h1M584 217.5h1M585 216.5h1M585 215.5h1M586 214.5h1M586 213.5h1M587 212.5h1M587 211.5h1M587 207.5h1M588 203.5h1M589 202.5h1M589 201.5h1M590 202.5h1M590 203.5h1M591 204.5h1M591 205.5h1M592 205.5h1M592 202.5h1M593 198.5h1M593 193.5h1M593 189.5h1M594 186.5h1M594 183.5h1M595 180.5h1M595 178.5h1M595 175.5h1M596 176.5h1M596 178.5h1M596 180.5h1M597 181.5h1M597 183.5h1M598 185.5h1M598 187.5h1M598 189.5h1M599 191.5h1M599 193.5h1M600 195.5h1M600 196.5h1M600 197.5h1M601 198.5h1M602 198.5h1M602 199.5h1M603 198.5h1M603 197.5h1M604 197.5h1M604 196.5h1M605 195.5h1M606 195.5h1M606 194.5h1M607 194.5h1M608 193.5h1M609 193.5h1M610 192.5h1M611 193.5h1M612 193.5h1M612 194.5h1M613 194.5h1M614 194.5h1M615 195.5h1M616 196.5h1M617 197.5h1M618 198.5h1M618 199.5h1M619 200.5h1M620 201.5h1M620 202.5h1M621 203.5h1M621 204.5h1M622 204.5h1M622 205.5h1M622 206.5h1" fill="none" stroke="#ff0000" stroke-width="1"/>
</g>
</g>
<g id="txt" opacity="0.999">
<text id="t0" transform="scale(0.72 1)" x="217.64" y="20" font-size="14.5" textLength="44.44" lengthAdjust="spacing" >GOES</text>
<text id="t1" transform="scale(0.72 1)" x="270.97" y="20" font-size="14.5" textLength="96.69" lengthAdjust="spacing" >0.1&#8212;0.8nm</text>
<text id="t2" transform="scale(0.72 1)" x="377.64" y="20" font-size="14.5" textLength="46.96" lengthAdjust="spacing" >(red),</text>
<text id="t3" transform="scale(0.72 1)" x="433.19" y="20" font-size="14.5" textLength="40.85" lengthAdjust="spacing" >LYRA</text>
<text id="t4" transform="scale(0.72 1)" x="482.08" y="20" font-size="14.5" textLength="14.47" lengthAdjust="spacing" >Al</text>
<text id="t5" transform="scale(0.72 1)" x="505.69" y="20" font-size="14.5" textLength="48.89" lengthAdjust="spacing" >(blue)</text>
<text id="t6" x="406.5" y="20" font-size="14.5" textLength="9.81" lengthAdjust="spacingAndGlyphs" >&amp;</text>
<text id="t7" transform="scale(0.72 1)" x="588.75" y="20" font-size="14.5" textLength="17.5" lengthAdjust="spacing" >Zr</text>
<text id="t8" transform="scale(0.72 1)" x="615.69" y="20" font-size="14.5" textLength="50.61" lengthAdjust="spacing" >(grey)</text>
<text id="t9" transform="scale(0.72 1)" x="676.25" y="20" font-size="14.5" textLength="44.15" lengthAdjust="spacing" >proxy</text>
<text id="y0" x="33.5" y="30" font-size="8.5" textLength="9.0" lengthAdjust="spacingAndGlyphs" >10</text>
<text id="m0" x="42.6" y="27.6" font-size="8" textLength="4.4" lengthAdjust="spacingAndGlyphs" font-weight="bold" >&#8722;</text>
<text id="e0" x="46.8" y="26" font-size="5.8" textLength="3.2" lengthAdjust="spacingAndGlyphs" font-weight="bold" >4</text>
<text id="y1" x="33.5" y="133" font-size="8.5" textLength="9.0" lengthAdjust="spacingAndGlyphs" >10</text>
<text id="m1" x="42.6" y="130.6" font-size="8" textLength="4.4" lengthAdjust="spacingAndGlyphs" font-weight="bold" >&#8722;</text>
<text id="e1" x="46.8" y="129" font-size="5.8" textLength="3.2" lengthAdjust="spacingAndGlyphs" font-weight="bold" >5</text>
<text id="y2" x="33.5" y="238" font-size="8.5" textLength="9.0" lengthAdjust="spacingAndGlyphs" >10</text>
<text id="m2" x="42.6" y="235.6" font-size="8" textLength="4.4" lengthAdjust="spacingAndGlyphs" font-weight="bold" >&#8722;</text>
<text id="e2" x="46.8" y="234" font-size="5.8" textLength="3.2" lengthAdjust="spacingAndGlyphs" font-weight="bold" >6</text>
<text id="y3" x="33.5" y="343" font-size="8.5" textLength="9.0" lengthAdjust="spacingAndGlyphs" >10</text>
<text id="m3" x="42.6" y="340.6" font-size="8" textLength="4.4" lengthAdjust="spacingAndGlyphs" font-weight="bold" >&#8722;</text>
<text id="e3" x="46.8" y="339" font-size="5.8" textLength="3.2" lengthAdjust="spacingAndGlyphs" font-weight="bold" >7</text>
<text id="y4" x="33.5" y="445" font-size="8.5" textLength="9.0" lengthAdjust="spacingAndGlyphs" >10</text>
<text id="m4" x="42.6" y="442.6" font-size="8" textLength="4.4" lengthAdjust="spacingAndGlyphs" font-weight="bold" >&#8722;</text>
<text id="e4" x="46.8" y="441" font-size="5.8" textLength="3.2" lengthAdjust="spacingAndGlyphs" font-weight="bold" >8</text>
<text id="x0" x="48.5" y="458" font-size="10.0" textLength="7.0" lengthAdjust="spacingAndGlyphs" >0</text>
<text id="x1" x="168.5" y="458" font-size="10.0" textLength="6.0" lengthAdjust="spacingAndGlyphs" >5</text>
<text id="x2" x="285.5" y="458" font-size="10.0" textLength="11.0" lengthAdjust="spacingAndGlyphs" >10</text>
<text id="x3" x="404.5" y="458" font-size="10.0" textLength="12.0" lengthAdjust="spacingAndGlyphs" >15</text>
<text id="x4" x="522.5" y="458" font-size="10.0" textLength="13.0" lengthAdjust="spacingAndGlyphs" >20</text>
<text id="c0" x="631.5" y="80" font-size="11" textLength="7.0" lengthAdjust="spacingAndGlyphs" >M</text>
<text id="c1" x="631.5" y="185" font-size="11" textLength="7.0" lengthAdjust="spacingAndGlyphs" >C</text>
<text id="c2" x="631.5" y="290" font-size="11" textLength="7.0" lengthAdjust="spacingAndGlyphs" >B</text>
<text id="c3" x="630.5" y="395" font-size="11" textLength="8.0" lengthAdjust="spacingAndGlyphs" >A</text>
<text id="xt0" x="265.7" y="470" font-size="10" textLength="23.59" lengthAdjust="spacingAndGlyphs" >Time</text>
<text id="xt1" transform="translate(293.2 472) skewX(-22)" font-size="15" >/</text>
<text id="xt2" x="306.3" y="470" font-size="10" textLength="5.45" lengthAdjust="spacingAndGlyphs" >h</text>
<text id="xt3" x="316.7" y="470" font-size="10" textLength="22.24" lengthAdjust="spacingAndGlyphs" >UTC,</text>
<text id="xt4" x="343.3" y="470" font-size="10" textLength="12.0" lengthAdjust="spacingAndGlyphs" >30</text>
<text id="xt5" x="361.3" y="470" font-size="10" textLength="19.0" lengthAdjust="spacingAndGlyphs" >Nov</text>
<text id="xt6" x="384.3" y="470" font-size="10" textLength="26.0" lengthAdjust="spacingAndGlyphs" >2023</text>
<text id="cr0" x="488.3" y="495" font-size="10.8" textLength="55.42" lengthAdjust="spacingAndGlyphs" >ROB/SIDC,</text>
<text id="cr1" x="549.1" y="495" font-size="10.8" textLength="46.64" lengthAdjust="spacingAndGlyphs" >Brussels,</text>
<text id="cr2" x="600.9" y="495" font-size="10.8" textLength="41.61" lengthAdjust="spacingAndGlyphs" >Belgium</text>
<text id="yt0" transform="translate(26 289.3) rotate(-90)" font-size="8.7" textLength="20.82" lengthAdjust="spacingAndGlyphs" font-weight="bold" >GOES</text>
<text id="yt1" transform="translate(26 265.3) rotate(-90)" font-size="8.7" textLength="40.23" lengthAdjust="spacingAndGlyphs" font-weight="bold" >Irradiance</text>
<text id="yt2" transform="translate(27.5 222.3) rotate(-90) skewX(-22)" font-size="12" >/</text>
<text id="yt3" transform="translate(26 211.9) rotate(-90)" font-size="8.7" textLength="9.86" lengthAdjust="spacingAndGlyphs" font-weight="bold" >(W</text>
<text id="yt4" transform="translate(26 197.9) rotate(-90)" font-size="8.7" textLength="6.57" lengthAdjust="spacingAndGlyphs" font-weight="bold" >m</text>
<text id="yt5" transform="translate(22.5 191.1) rotate(-90)" font-size="6.0" textLength="7.2" lengthAdjust="spacingAndGlyphs" font-weight="bold" >&#8722;2</text>
<text id="yt6" transform="translate(26 182.5) rotate(-90)" font-size="8.7" textLength="2.6" lengthAdjust="spacingAndGlyphs" font-weight="bold" >)</text>
</g>
</svg>
</body></html>
